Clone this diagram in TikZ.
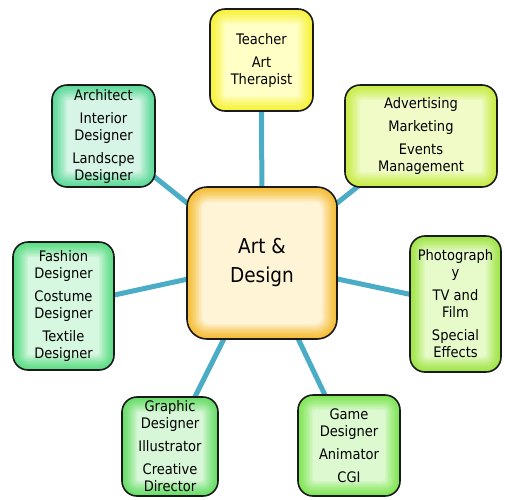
\documentclass[tikz,border=0pt]{standalone}
\usepackage{fontspec}
\setmainfont[FakeStretch=0.9]{DejaVu Sans}
\usetikzlibrary{backgrounds}

\definecolor{linkblue}{HTML}{4BACC6}
\definecolor{boxline}{HTML}{1A1A1A}
% edge / inner colours of the bevelled cards
\definecolor{hubE}{HTML}{F5BE3A}\definecolor{hubI}{HTML}{FFF4D6}
\definecolor{teaE}{HTML}{F6F23E}\definecolor{teaI}{HTML}{FFFFC6}
\definecolor{advE}{HTML}{C8EC48}\definecolor{advI}{HTML}{F0FBC8}
\definecolor{phoE}{HTML}{A2E64A}\definecolor{phoI}{HTML}{E6FACA}
\definecolor{gamE}{HTML}{82E658}\definecolor{gamI}{HTML}{DCF9D0}
\definecolor{graE}{HTML}{6ADE6A}\definecolor{graI}{HTML}{D8F7D8}
\definecolor{fasE}{HTML}{5EDE86}\definecolor{fasI}{HTML}{D6F7E0}
\definecolor{arcE}{HTML}{5EDA9A}\definecolor{arcI}{HTML}{D6F5E6}

\tikzset{
  conn/.style={draw=linkblue, line width=5pt},
  card/.style n args={3}{
    rounded corners=#3pt, draw=boxline, line width=1.6pt, fill=#1,
    align=center, inner sep=0pt, text=black,
    font=\fontsize{14.5}{17}\selectfont,
    path picture={
      \foreach \k in {1,...,10}{
        \pgfmathtruncatemacro\mix{100*(\k/10)^1.3}
        \pgfmathsetmacro\rr{max(#3-\k*1.3,3)}
        \pgfmathsetmacro\dd{\k*1.5}
        \fill[#2!\mix!#1, rounded corners=\rr pt]
          ([shift={(\dd pt,\dd pt)}]path picture bounding box.south west)
          rectangle
          ([shift={(-\dd pt,-\dd pt)}]path picture bounding box.north east);
      }
    }
  }
}

\begin{document}
\begin{tikzpicture}[x=1pt,y=-1pt]
  \useasboundingbox (0,0) rectangle (505,499);

  % hub
  \node[card={hubE}{hubI}{20}, minimum width=150pt, minimum height=152pt,
        font=\fontsize{20.5}{29}\selectfont] (hub) at (262,263) {Art \&\\Design};

  % surrounding cards
  \node[card={teaE}{teaI}{15}, minimum width=103pt, minimum height=102pt]
    (teach) at (261.5,60) {Teacher\\[6pt]Art\\Therapist};
  \node[card={advE}{advI}{15}, minimum width=152pt, minimum height=102pt]
    (adv) at (421,136) {Advertising\\[6pt]Marketing\\[6pt]Events\\Management};
  \node[card={phoE}{phoI}{15}, minimum width=91pt, minimum height=136pt]
    (photo) at (455.5,304) {Photograph\\y\\[6pt]TV and\\Film\\[6pt]Special\\Effects};
  \node[card={gamE}{gamI}{15}, minimum width=102pt, minimum height=101pt]
    (game) at (349,445.5) {Game\\Designer\\[6pt]Animator\\[6pt]CGI};
  \node[card={graE}{graI}{15}, minimum width=96pt, minimum height=99pt]
    (graphic) at (170,446.5) {Graphic\\Designer\\[6pt]Illustrator\\[6pt]Creative\\Director};
  \node[card={fasE}{fasI}{15}, minimum width=101pt, minimum height=128pt]
    (fashion) at (63.5,306) {Fashion\\Designer\\[6pt]Costume\\Designer\\[6pt]Textile\\Designer};
  \node[card={arcE}{arcI}{15}, minimum width=103pt, minimum height=102pt]
    (arch) at (103.5,136) {Architect\\[6pt]Interior\\Designer\\[6pt]Landscpe\\Designer};

  % spokes behind the cards
  \begin{pgfonlayer}{background}
    \foreach \n in {teach,adv,photo,game,graphic,fashion,arch}
      \draw[conn] (hub.center) -- (\n.center);
  \end{pgfonlayer}
\end{tikzpicture}
\end{document}
